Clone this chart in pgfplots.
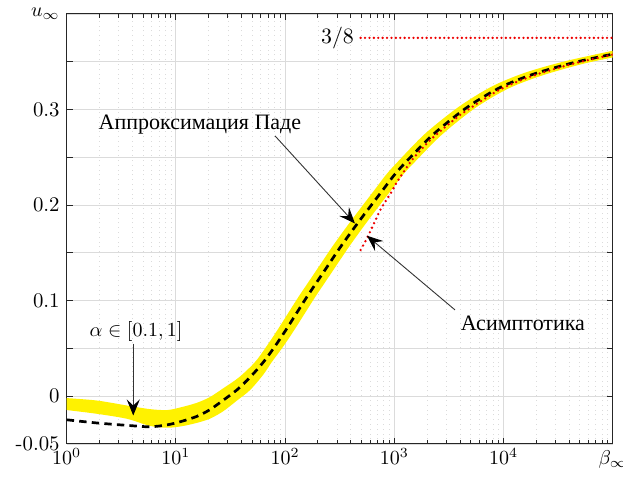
\documentclass[border=0pt]{standalone}
\usepackage{fontspec}
\usepackage{pgfplots}
\pgfplotsset{compat=1.18}
\usepgfplotslibrary{fillbetween}
\usetikzlibrary{arrows.meta}
\newfontfamily\cyr{Liberation Serif}
\definecolor{axgray}{gray}{0.15}
\definecolor{gridgray}{gray}{0.86}
\definecolor{annot}{gray}{0.2}
\definecolor{asred}{rgb}{0.93,0.0,0.0}

\begin{document}
\begin{tikzpicture}
\begin{axis}[
    width=273pt, height=215pt, scale only axis,
    xmode=log, xmin=1, xmax=1e5,
    ymin=-0.05, ymax=0.4,
    xtick={1,10,100,1000,10000,100000},
    xticklabels={$10^0$,$10^1$,$10^2$,$10^3$,$10^4$,$\beta_\infty$},
    minor xtick={2,3,4,5,6,7,8,9,20,30,40,50,60,70,80,90,
        200,300,400,500,600,700,800,900,2000,3000,4000,5000,6000,7000,8000,9000,
        20000,30000,40000,50000,60000,70000,80000,90000},
    ytick={-0.05,0,0.05,0.1,0.15,0.2,0.25,0.3,0.35,0.4},
    yticklabels={-0.05,0,,0.1,,0.2,,0.3,,$u_\infty$},
    grid=both,
    major grid style={gridgray, line width=0.4pt},
    minor grid style={gridgray, dotted, line width=0.4pt},
    axis line style={axgray, line width=0.5pt},
    tick style={axgray, line width=0.5pt},
    major tick length=3pt, minor tick length=1.8pt,
    tick align=inside,
    ticklabel style={font=\fontsize{10.4}{12}\selectfont},
    xticklabel style={text height=1.6ex},
]

% alpha in [0.1, 1]: band edges
\addplot[name path=up, draw=none, smooth, forget plot] coordinates {
    (1,-0.002) (1.884,-0.0045) (3.548,-0.0097) (5.754,-0.0135) (8.318,-0.0145)
    (11.22,-0.0115) (15.49,-0.007) (20.42,-0.001) (26.92,0.008) (38,0.0199)
    (52.8,0.0355) (66.5,0.051) (83.7,0.068) (105.4,0.086) (132.7,0.104)
    (167.1,0.121) (210.4,0.138) (264.9,0.155) (333.4,0.171) (419.8,0.1865)
    (528.4,0.2015) (665.3,0.2165) (837.5,0.2315) (1089,0.246) (1905,0.2745)
    (3855,0.3025) (7780,0.324) (15700,0.3385) (36480,0.3505) (100000,0.3615)
};
\addplot[name path=lo, draw=none, smooth, forget plot] coordinates {
    (1,-0.0145) (1.884,-0.0184) (3.548,-0.0236) (5.754,-0.031) (8.318,-0.033)
    (11.22,-0.0315) (15.49,-0.028) (20.42,-0.0236) (26.92,-0.016) (36.31,-0.0045)
    (47.86,0.0065) (63.1,0.0225) (75.3,0.0355) (94.8,0.051) (119.4,0.068)
    (150.3,0.086) (189.2,0.104) (238.2,0.121) (299.9,0.138) (377.6,0.155)
    (475.3,0.171) (598.4,0.1865) (753.4,0.2015) (948.4,0.2165) (1194,0.2315)
    (1552,0.2455) (2716,0.2735) (5495,0.3015) (11090,0.322) (22390,0.3355)
    (52000,0.3475) (100000,0.3545)
};
\addplot[yellow] fill between[of=up and lo];

% Pade approximation
\addplot[black, line width=1.35pt, dash pattern=on 3.7pt off 2.6pt, smooth] coordinates {
    (1,-0.0247) (1.884,-0.028) (3.548,-0.0305) (5.754,-0.032) (8.318,-0.030)
    (11.22,-0.0264) (15.49,-0.0212) (20.42,-0.0142) (26.92,-0.0045) (36.31,0.0067)
    (47.86,0.0199) (63.10,0.0355) (79.43,0.051) (100,0.068) (125.9,0.086)
    (158.5,0.104) (199.5,0.121) (251.2,0.138) (316.2,0.155) (398.1,0.171)
    (501.2,0.1865) (631,0.2015) (794.3,0.2165) (1000,0.2315) (1300,0.246)
    (2275,0.274) (4603,0.302) (9290,0.323) (18750,0.337) (43550,0.349)
    (100000,0.358)
};

% asymptotics
\addplot[asred, line width=1.3pt, line cap=round, dash pattern=on 0pt off 2.5pt, smooth] coordinates {
    (492,0.153) (558,0.1645) (621,0.1756) (690,0.187) (767,0.1975)
    (946,0.214) (1052,0.2236) (1393,0.2445) (1718,0.2567) (2275,0.271)
    (3724,0.2915) (4603,0.299) (9290,0.321) (18750,0.3355) (43550,0.348)
    (100000,0.3575)
};
\addplot[asred, line width=1.3pt, line cap=round, dash pattern=on 0pt off 2.2pt] coordinates {
    (492,0.375) (100000,0.375)
};

\node[font=\fontsize{10.6}{12}\selectfont] at (302,0.3748) {$3/8$};
\node[font=\cyr\fontsize{11}{13}\selectfont] at (16.6,0.284) {Аппроксимация Паде};
\draw[annot, line width=0.45pt, -{Stealth[length=8pt, width=6.5pt, inset=3pt, black]}]
    (80.9,0.2724) -- (436,0.1808);
\node[font=\cyr\fontsize{11}{13}\selectfont] at (15070,0.0761) {Асимптотика};
\draw[annot, line width=0.45pt, -{Stealth[length=8pt, width=6.5pt, inset=3pt, black]}]
    (3597,0.0903) -- (562,0.1679);
\node[font=\fontsize{10.4}{12}\selectfont] at (4.32,0.0676) {$\alpha\in[0.1,1]$};
\draw[annot, line width=0.45pt, -{Stealth[length=8pt, width=6.5pt, inset=3pt, black]}]
    (4.07,0.055) -- (4.07,-0.0202);
\end{axis}
\pgfresetboundingbox
\path[use as bounding box] ([xshift=-33.35pt,yshift=-16.5pt]current axis.south west)
    rectangle ([xshift=5.15pt,yshift=7pt]current axis.north east);
\end{tikzpicture}
\end{document}
